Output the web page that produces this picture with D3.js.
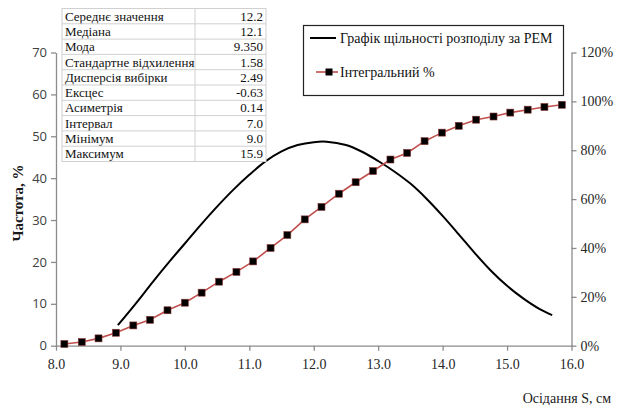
<!DOCTYPE html>
<html>
<head>
<meta charset="utf-8">
<script src="https://cdn.jsdelivr.net/npm/d3@7"></script>
<style>
  body { margin: 0; background: #fff; }
</style>
</head>
<body>
<div id="chart"></div>
<script>
// cumulative series (Інтегральний %)
const cumX = [8.13, 8.40, 8.66, 8.93, 9.20, 9.46, 9.73, 10.00, 10.26, 10.53,
              10.80, 11.06, 11.33, 11.59, 11.86, 12.12, 12.39, 12.65, 12.92, 13.19,
              13.45, 13.72, 13.99, 14.25, 14.52, 14.79, 15.05, 15.32, 15.58, 15.85];
const cumPct = [0.007, 0.015, 0.030, 0.053, 0.083, 0.106, 0.145, 0.176, 0.217, 0.262,
                0.302, 0.345, 0.400, 0.453, 0.517, 0.568, 0.622, 0.669, 0.715, 0.762,
                0.789, 0.837, 0.872, 0.900, 0.925, 0.938, 0.954, 0.966, 0.977, 0.986];

// density curve (Графік щільності розподілу за РЕМ)
const densX = [8.96, 9.25, 9.5, 9.75, 10.0, 10.25, 10.5, 10.75, 11.0, 11.25, 11.5, 11.75, 12.0, 12.2,
               12.5, 12.75, 13.0, 13.25, 13.5, 13.75, 14.0, 14.25, 14.5, 14.75, 15.0, 15.25, 15.5, 15.7];
const densY = [4.9, 10.3, 15.2, 19.9, 24.4, 28.9, 33.2, 37.2, 40.8, 44.0, 46.4, 47.9, 48.6, 48.7,
               47.9, 46.3, 44.1, 41.6, 38.7, 35.1, 31.0, 26.6, 22.1, 17.9, 14.3, 11.3, 8.8, 7.3];

// descriptive statistics table
const statNames = ["Середнє значення", "Медіана", "Мода", "Стандартне відхилення",
                   "Дисперсія вибірки", "Ексцес", "Асиметрія", "Інтервал", "Мінімум", "Максимум"];
const statValues = ["12.2", "12.1", "9.350", "1.58", "2.49", "-0.63", "0.14", "7.0", "9.0", "15.9"];

const xTicks = [8, 9, 10, 11, 12, 13, 14, 15, 16];
const leftTicks = [0, 10, 20, 30, 40, 50, 60, 70];
const rightTicks = [0, 0.2, 0.4, 0.6, 0.8, 1.0, 1.2];

const seriesNames = ["Графік щільності розподілу за РЕМ", "Інтегральний %"];

var W = 617, H = 405;
var plot = { left: 56, right: 571.5, top: 52.5, bottom: 345.7 };

var svg = d3.select("#chart").append("svg")
    .attr("width", W)
    .attr("height", H);

const x = d3.scaleLinear().domain([8, 16]).range([plot.left, plot.right]);
const y = d3.scaleLinear().domain([0, 70]).range([plot.bottom, plot.top]);
const y2 = d3.scaleLinear().domain([0, 1.2]).range([plot.bottom, plot.top]);

const axisColor = "#8c8c8c";
const redLine = "#c0504d";
const serif = "'Liberation Serif', 'Times New Roman', serif";

// left axis
var gl = svg.append("g")
    .attr("transform", `translate(${plot.left},0)`)
    .call(d3.axisLeft(y).tickValues(leftTicks).tickSize(5).tickSizeOuter(0).tickPadding(4));
gl.selectAll("text")
    .attr("font-family", "'Open Sans', 'Liberation Sans', sans-serif")
    .attr("font-size", 13)
    .attr("fill", "#404040");

// right axis
var gr = svg.append("g")
    .attr("transform", `translate(${plot.right},0)`)
    .call(d3.axisRight(y2).tickValues(rightTicks).tickFormat(d3.format(".0%")).tickSize(5).tickSizeOuter(0).tickPadding(4));
gr.selectAll("text")
    .attr("font-family", serif)
    .attr("font-size", 14)
    .attr("fill", "#262626");

// bottom axis
var gb = svg.append("g")
    .attr("transform", `translate(0,${plot.bottom})`)
    .call(d3.axisBottom(x).tickValues(xTicks).tickFormat(d3.format(".1f")).tickSize(5).tickSizeOuter(0).tickPadding(8));
gb.selectAll("text")
    .attr("font-family", serif)
    .attr("font-size", 14)
    .attr("fill", "#262626");

svg.selectAll(".domain, .tick line").attr("stroke", axisColor).attr("stroke-width", 1.3);

// axis titles
svg.append("text")
    .attr("transform", "translate(20,203) rotate(-90)")
    .attr("text-anchor", "middle")
    .attr("dominant-baseline", "middle")
    .attr("font-family", serif)
    .attr("font-size", 15)
    .attr("font-weight", "bold")
    .attr("fill", "#1a1a1a")
    .text("Частота, %");

svg.append("text")
    .attr("x", 611)
    .attr("y", 403)
    .attr("text-anchor", "end")
    .attr("font-family", serif)
    .attr("font-size", 14)
    .attr("fill", "#1a1a1a")
    .text("Осідання S, см");

// density curve
const densLine = d3.line()
    .x((d, i) => x(densX[i]))
    .y(d => y(d))
    .curve(d3.curveCatmullRom.alpha(0.5));

svg.append("path")
    .datum(densY)
    .attr("fill", "none")
    .attr("stroke", "#000")
    .attr("stroke-width", 2)
    .attr("d", densLine);

// cumulative line
const cumLine = d3.line()
    .x((d, i) => x(cumX[i]))
    .y(d => y2(d));

svg.append("path")
    .datum(cumPct)
    .attr("fill", "none")
    .attr("stroke", redLine)
    .attr("stroke-width", 1.6)
    .attr("d", cumLine);

svg.selectAll("rect.marker")
    .data(cumPct)
    .enter()
    .append("rect")
    .attr("class", "marker")
    .attr("x", (d, i) => x(cumX[i]) - 3.5)
    .attr("y", d => y2(d) - 3.5)
    .attr("width", 7)
    .attr("height", 7)
    .attr("fill", "#000")
    .attr("stroke", "#8b3a38")
    .attr("stroke-width", 0.6);

// statistics table
var tbl = { left: 62, mid: 195, right: 266, top: 8.5, row: 15.3 };
var tg = svg.append("g");
tg.append("rect")
    .attr("x", tbl.left)
    .attr("y", tbl.top)
    .attr("width", tbl.right - tbl.left)
    .attr("height", tbl.row * statNames.length)
    .attr("fill", "#fff")
    .attr("stroke", "#d0d0d0");
statNames.forEach(function (name, i) {
    var ry = tbl.top + i * tbl.row;
    if (i > 0) {
        tg.append("line")
            .attr("x1", tbl.left).attr("x2", tbl.right)
            .attr("y1", ry).attr("y2", ry)
            .attr("stroke", "#d0d0d0");
    }
    tg.append("text")
        .attr("x", tbl.left + 3)
        .attr("y", ry + tbl.row / 2 + 4.5)
        .attr("font-family", serif)
        .attr("font-size", 13)
        .attr("fill", "#111")
        .text(name);
    tg.append("text")
        .attr("x", tbl.right - 3)
        .attr("y", ry + tbl.row / 2 + 4.5)
        .attr("text-anchor", "end")
        .attr("font-family", serif)
        .attr("font-size", 13)
        .attr("fill", "#111")
        .text(statValues[i]);
});
tg.append("line")
    .attr("x1", tbl.mid).attr("x2", tbl.mid)
    .attr("y1", tbl.top).attr("y2", tbl.top + tbl.row * statNames.length)
    .attr("stroke", "#d0d0d0");

// legend
var lg = svg.append("g");
lg.append("rect")
    .attr("x", 303.5)
    .attr("y", 25.5)
    .attr("width", 260)
    .attr("height", 70)
    .attr("fill", "#fff")
    .attr("stroke", "#222")
    .attr("stroke-width", 1.2);
lg.append("line")
    .attr("x1", 310).attr("x2", 336)
    .attr("y1", 38).attr("y2", 38)
    .attr("stroke", "#000")
    .attr("stroke-width", 2);
lg.append("text")
    .attr("x", 340)
    .attr("y", 43)
    .attr("font-family", serif)
    .attr("font-size", 14)
    .attr("fill", "#111")
    .text(seriesNames[0]);
lg.append("line")
    .attr("x1", 316).attr("x2", 338)
    .attr("y1", 72).attr("y2", 72)
    .attr("stroke", redLine)
    .attr("stroke-width", 1.6);
lg.append("rect")
    .attr("x", 325.5).attr("y", 68.5)
    .attr("width", 7).attr("height", 7)
    .attr("fill", "#000");
lg.append("text")
    .attr("x", 340)
    .attr("y", 77)
    .attr("font-family", serif)
    .attr("font-size", 14)
    .attr("fill", "#111")
    .text(seriesNames[1]);
</script>
</body>
</html>
